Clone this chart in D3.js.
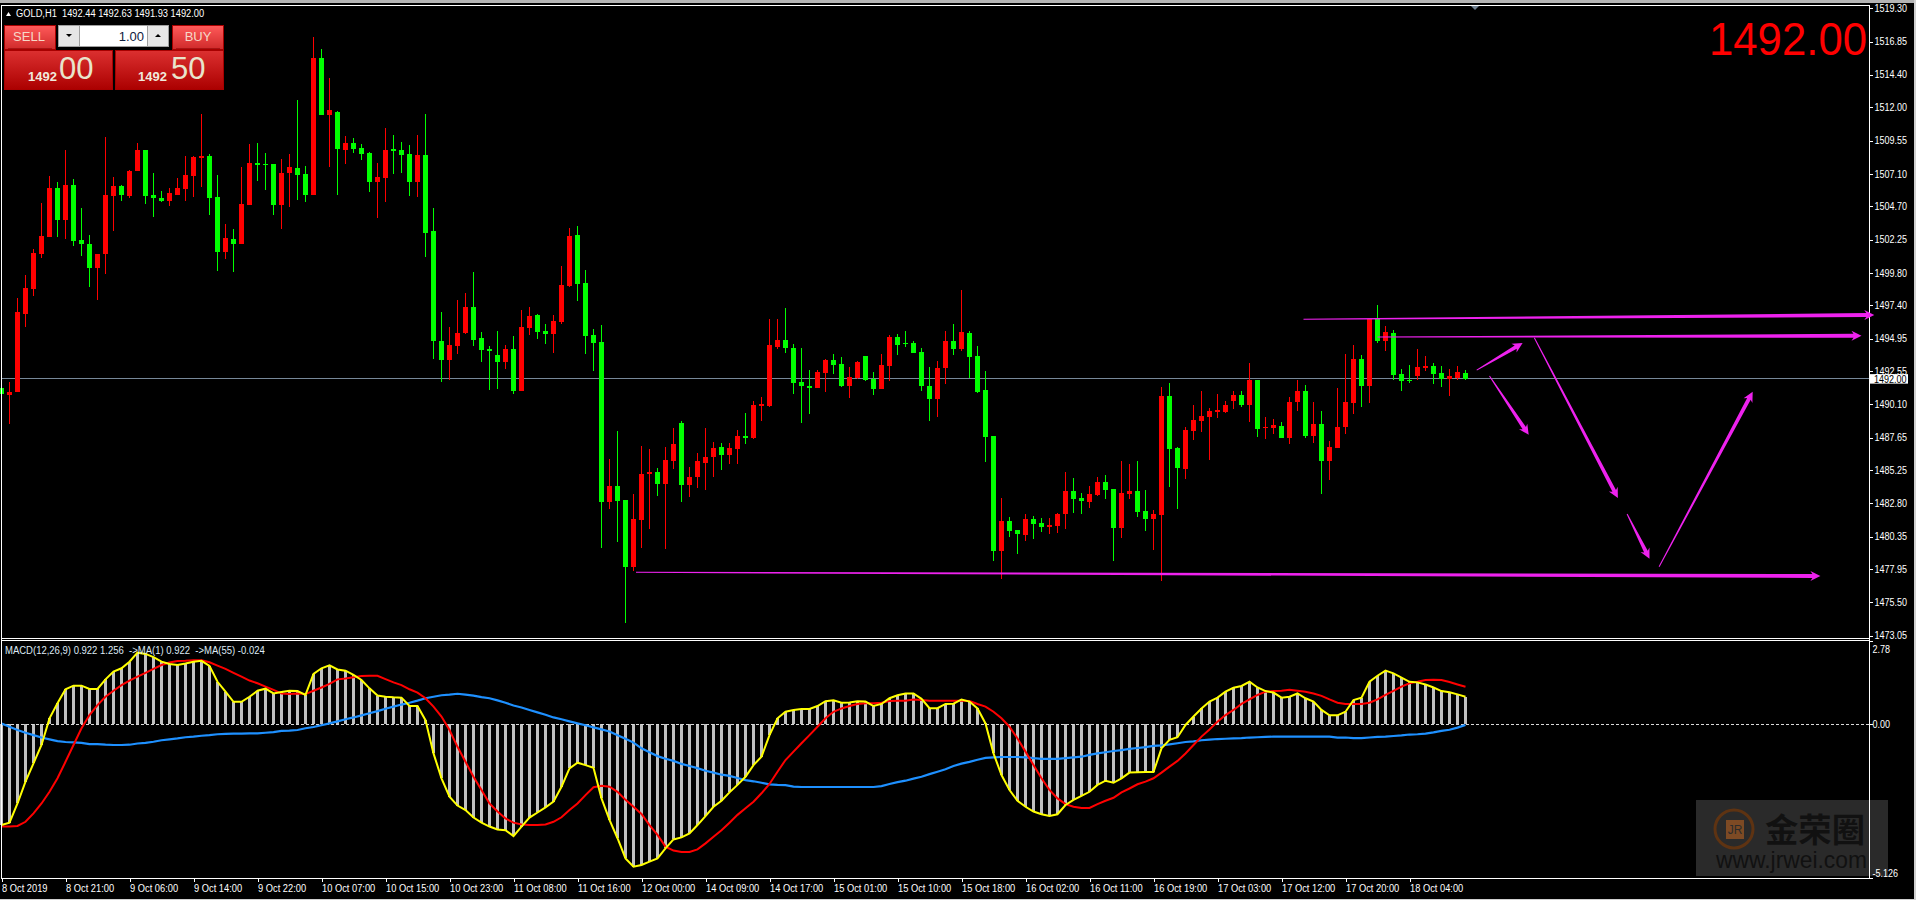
<!DOCTYPE html>
<html lang="en">
<head>
  <meta charset="UTF-8">
  <title>GOLD,H1</title>
  <style>
    html, body { margin: 0; padding: 0; background: #000; overflow: hidden; }
    svg { display: block; }
    text { font-family: "Liberation Sans", sans-serif; font-size: 10px; fill: #fff; white-space: pre; }
    .tick text { font-family: "Liberation Sans", sans-serif; font-size: 10px; fill: #fff; }
    .tick line { stroke: #fff; shape-rendering: crispEdges; }
  </style>
</head>
<body>
  <script src="https://cdn.jsdelivr.net/npm/d3@7"></script>
  <script>
    // candles
    var opens = [1491.31,1490.79,1491.01,1496.76,1498.60,1501.19,1502.44,1506.05,1503.69,1506.27,
      1502.22,1501.92,1500.15,1501.19,1505.46,1506.20,1505.46,1507.30,1508.85,1505.53,
      1505.31,1505.09,1505.53,1505.98,1506.94,1508.26,1508.41,1505.39,1501.33,1502.29,
      1501.92,1504.80,1507.89,1507.82,1507.82,1504.80,1507.16,1507.53,1507.08,1505.53,
      1515.63,1511.43,1511.65,1508.85,1509.37,1509.00,1508.63,1506.49,1506.79,1508.93,
      1508.85,1508.56,1506.49,1508.48,1502.88,1494.77,1493.37,1494.40,1495.36,1497.28,
      1494.99,1494.18,1493.74,1493.22,1494.18,1491.09,1495.73,1496.69,1495.51,1495.29,
      1496.17,1498.83,1502.59,1499.05,1495.21,1494.70,1482.90,1484.08,1483.05,1478.11,
      1481.58,1484.97,1485.11,1484.23,1485.93,1488.73,1484.16,1484.75,1485.78,1486.22,
      1486.96,1486.37,1486.81,1487.77,1487.62,1489.98,1489.98,1494.33,1494.85,1494.26,
      1491.75,1491.45,1491.31,1492.41,1493.37,1493.08,1491.45,1492.04,1493.67,1491.97,
      1491.23,1492.93,1495.07,1494.62,1494.62,1493.96,1491.45,1490.50,1492.78,1494.77,
      1494.18,1495.36,1493.67,1491.16,1487.77,1479.29,1481.50,1480.84,1480.47,1481.65,
      1481.35,1481.06,1481.13,1482.02,1483.71,1483.20,1482.90,1483.42,1484.38,1483.86,
      1480.99,1483.49,1483.71,1482.24,1481.65,1481.94,1490.72,1486.88,1485.34,1488.14,
      1488.87,1489.17,1489.54,1489.54,1490.35,1490.79,1490.05,1491.90,1488.36,1488.36,
      1488.51,1487.62,1490.27,1491.09,1487.77,1488.65,1485.93,1486.88,1488.43,1490.20,
      1493.44,1491.45,1496.39,1494.77,1495.36,1492.34,1491.90,1492.19,1492.78,1492.93,
      1492.41,1491.97,1492.04,1492.44];
    var highs = [1492.19,1491.75,1497.94,1499.64,1501.55,1504.94,1506.94,1506.49,1508.85,1506.71,
      1504.58,1502.59,1501.19,1509.81,1506.86,1506.27,1507.38,1509.37,1508.85,1507.16,
      1505.83,1506.05,1506.79,1508.41,1508.41,1511.51,1508.56,1507.01,1503.40,1503.03,
      1507.60,1509.29,1509.37,1508.63,1507.82,1508.19,1508.56,1512.54,1507.67,1517.18,
      1516.30,1514.16,1511.73,1509.88,1509.74,1509.29,1508.70,1507.89,1510.47,1509.96,
      1509.44,1509.22,1509.96,1511.51,1504.58,1496.91,1495.80,1497.79,1498.31,1499.86,
      1495.43,1494.40,1495.51,1494.48,1495.14,1497.06,1497.28,1496.76,1496.02,1496.69,
      1500.30,1503.10,1503.25,1500.01,1495.66,1495.95,1486.07,1488.14,1483.05,1483.49,
      1487.03,1486.81,1485.41,1486.96,1488.36,1488.87,1485.48,1486.51,1488.36,1487.33,
      1487.25,1487.25,1488.21,1489.46,1490.35,1490.64,1496.39,1496.39,1497.20,1494.55,
      1494.26,1492.63,1492.63,1493.44,1493.81,1493.59,1492.86,1493.30,1493.67,1492.49,
      1493.81,1495.21,1495.29,1495.51,1494.77,1494.26,1492.86,1493.30,1495.51,1496.02,
      1498.53,1495.51,1494.40,1492.56,1487.77,1483.20,1481.80,1480.84,1482.02,1481.87,
      1481.72,1481.72,1482.09,1485.11,1484.67,1483.57,1484.08,1484.75,1484.89,1483.86,
      1485.93,1485.70,1485.93,1483.79,1482.31,1491.38,1491.68,1486.96,1488.43,1490.05,
      1491.09,1489.83,1490.86,1490.35,1491.09,1491.09,1493.15,1491.90,1489.17,1489.02,
      1488.80,1490.64,1491.90,1491.53,1490.27,1489.61,1487.40,1491.31,1493.81,1494.48,
      1493.74,1496.39,1497.43,1495.88,1495.58,1492.71,1493.00,1494.18,1493.67,1493.15,
      1492.93,1492.71,1492.93,1492.63];
    var lows = [1489.98,1488.65,1491.01,1495.80,1498.09,1500.89,1502.44,1502.44,1502.29,1501.77,
      1501.04,1498.75,1497.79,1499.71,1502.88,1505.09,1505.31,1507.30,1504.87,1503.91,
      1505.02,1504.72,1505.53,1505.09,1505.39,1506.12,1504.06,1499.93,1500.82,1499.86,
      1501.92,1504.80,1506.57,1505.90,1504.06,1503.03,1504.65,1505.17,1505.02,1505.53,
      1511.43,1507.60,1505.53,1507.82,1508.63,1508.11,1505.76,1503.84,1505.02,1507.08,
      1507.16,1505.46,1505.39,1500.96,1493.44,1491.75,1491.90,1493.81,1495.29,1494.40,
      1493.22,1491.16,1491.23,1492.71,1490.86,1491.09,1495.21,1494.92,1494.55,1493.89,
      1496.02,1498.75,1497.72,1493.81,1492.56,1479.51,1482.39,1479.95,1473.98,1477.82,
      1479.51,1480.91,1483.34,1479.44,1485.34,1482.90,1483.27,1483.93,1483.79,1484.75,
      1485.26,1485.70,1485.70,1487.18,1487.55,1488.87,1489.91,1494.18,1493.89,1490.86,
      1488.73,1489.39,1491.31,1491.01,1492.34,1491.38,1490.57,1491.97,1491.82,1490.79,
      1491.23,1491.82,1493.74,1494.33,1493.89,1491.09,1488.87,1489.17,1491.60,1493.74,
      1494.03,1492.04,1490.94,1485.85,1478.55,1477.23,1480.32,1479.07,1480.03,1480.17,
      1480.69,1480.54,1480.62,1480.91,1482.09,1482.02,1482.46,1483.34,1483.12,1478.55,
      1480.25,1483.12,1481.80,1480.76,1479.36,1477.08,1484.01,1482.39,1484.60,1487.47,
      1488.06,1486.00,1489.09,1489.46,1489.76,1489.91,1488.80,1487.69,1487.55,1487.92,
      1487.62,1487.18,1489.61,1487.62,1487.25,1483.49,1484.52,1486.88,1487.92,1489.39,
      1489.91,1490.20,1494.62,1494.03,1491.90,1491.09,1491.68,1491.90,1492.56,1491.60,
      1491.38,1490.72,1491.90,1491.93];
    var closes = [1490.86,1491.01,1496.91,1498.68,1501.26,1502.51,1506.05,1503.69,1506.27,1502.14,
      1501.92,1500.15,1501.19,1505.53,1506.20,1505.53,1507.30,1508.85,1505.46,1505.31,
      1505.09,1505.68,1506.05,1507.01,1508.34,1508.41,1505.31,1501.33,1502.36,1501.92,
      1504.87,1507.89,1507.75,1507.75,1504.80,1507.16,1507.60,1507.01,1505.53,1515.63,
      1511.43,1511.80,1508.93,1509.37,1508.93,1508.56,1506.49,1506.86,1508.85,1508.78,
      1508.48,1506.49,1508.48,1502.73,1494.77,1493.37,1494.48,1495.36,1497.28,1494.85,
      1494.11,1494.03,1493.22,1494.18,1491.09,1495.80,1496.61,1495.43,1495.29,1496.25,
      1498.90,1502.51,1498.97,1495.14,1494.62,1482.90,1484.08,1482.98,1478.11,1481.65,
      1484.97,1485.11,1484.23,1486.00,1487.18,1484.16,1484.75,1485.93,1486.22,1486.88,
      1486.37,1486.88,1487.77,1487.62,1490.05,1490.13,1494.48,1494.85,1494.26,1491.68,
      1491.45,1491.31,1492.49,1493.37,1493.00,1491.45,1492.12,1493.22,1491.90,1491.23,
      1493.00,1495.07,1494.48,1494.55,1493.89,1491.45,1490.50,1492.78,1494.77,1494.18,
      1495.43,1493.59,1491.01,1487.69,1479.29,1481.50,1480.76,1480.54,1481.65,1481.28,
      1481.06,1481.21,1482.02,1483.71,1483.12,1482.98,1483.49,1484.38,1483.79,1480.99,
      1483.57,1483.71,1482.17,1481.65,1482.02,1490.72,1486.81,1485.41,1488.21,1488.95,
      1489.24,1489.61,1489.68,1490.05,1490.79,1490.05,1491.90,1488.28,1488.43,1488.58,
      1487.62,1490.27,1491.09,1487.77,1488.65,1485.93,1486.96,1488.43,1490.27,1493.44,
      1491.45,1496.39,1494.77,1495.43,1492.26,1491.82,1491.82,1492.85,1492.93,1492.34,
      1491.97,1492.19,1492.49,1492.00];

    // MACD pane: yellow main line (same values as the histogram), red signal, blue MA(55)
    var macd = [-3.36,-3.28,-2.64,-1.91,-1.30,-0.69,0.20,0.70,1.17,1.29,
      1.29,1.18,1.18,1.50,1.76,1.87,2.09,2.39,2.35,2.24,
      2.09,2.01,1.98,2.03,2.09,2.12,1.95,1.42,1.09,0.75,
      0.75,0.92,1.12,1.19,1.03,1.08,1.12,1.11,0.98,1.68,
      1.87,1.97,1.83,1.79,1.65,1.48,1.20,0.96,0.92,0.90,
      0.89,0.61,0.61,0.14,-0.97,-1.80,-2.41,-2.71,-2.86,-3.11,
      -3.28,-3.41,-3.51,-3.53,-3.73,-3.41,-3.11,-2.94,-2.77,-2.58,
      -2.08,-1.47,-1.28,-1.36,-1.45,-2.47,-3.19,-3.80,-4.47,-4.75,
      -4.69,-4.58,-4.47,-4.14,-3.84,-3.77,-3.64,-3.36,-3.06,-2.75,
      -2.55,-2.27,-2.02,-1.75,-1.36,-1.08,-0.36,0.20,0.42,0.48,
      0.51,0.51,0.61,0.77,0.80,0.72,0.73,0.77,0.76,0.61,
      0.68,0.87,0.97,1.03,1.03,0.85,0.54,0.54,0.68,0.69,
      0.83,0.76,0.53,0.03,-0.97,-1.69,-2.19,-2.55,-2.75,-2.91,
      -3.00,-3.06,-3.00,-2.69,-2.52,-2.39,-2.25,-2.02,-1.88,-1.95,
      -1.80,-1.61,-1.60,-1.59,-1.59,-0.80,-0.52,-0.43,-0.02,0.26,
      0.53,0.76,0.89,1.09,1.22,1.28,1.42,1.23,1.11,1.06,
      0.89,0.92,1.03,0.87,0.76,0.48,0.30,0.30,0.42,0.81,
      0.89,1.42,1.62,1.79,1.70,1.56,1.42,1.40,1.33,1.23,
      1.11,1.07,1.00,0.922];
    var signal = [-3.41,-3.41,-3.39,-3.25,-2.97,-2.64,-2.25,-1.80,-1.25,-0.69,
      -0.13,0.31,0.64,0.92,1.12,1.31,1.46,1.59,1.72,1.85,
      1.98,2.06,2.11,2.12,2.14,2.14,2.07,1.96,1.85,1.72,
      1.59,1.46,1.37,1.26,1.15,1.03,1.01,1.03,1.01,1.12,
      1.23,1.35,1.50,1.53,1.57,1.61,1.62,1.62,1.51,1.40,
      1.31,1.17,1.06,0.87,0.59,0.26,-0.19,-0.75,-1.25,-1.75,
      -2.19,-2.64,-2.91,-3.14,-3.28,-3.34,-3.36,-3.36,-3.34,-3.25,
      -3.10,-2.86,-2.64,-2.36,-2.10,-2.05,-2.08,-2.25,-2.52,-2.75,
      -2.99,-3.36,-3.69,-4.08,-4.21,-4.26,-4.26,-4.17,-3.97,-3.75,
      -3.53,-3.28,-3.02,-2.80,-2.58,-2.30,-1.99,-1.58,-1.19,-0.91,
      -0.63,-0.36,-0.08,0.20,0.42,0.53,0.61,0.68,0.70,0.70,
      0.72,0.78,0.79,0.79,0.83,0.81,0.79,0.79,0.79,0.79,
      0.79,0.78,0.68,0.59,0.42,0.20,-0.08,-0.47,-0.91,-1.36,
      -1.80,-2.19,-2.47,-2.66,-2.75,-2.79,-2.79,-2.66,-2.55,-2.45,
      -2.27,-2.14,-2.00,-1.91,-1.80,-1.61,-1.41,-1.22,-0.97,-0.69,
      -0.41,-0.17,0.09,0.31,0.48,0.68,0.83,0.98,1.09,1.11,
      1.12,1.15,1.12,1.09,1.03,0.95,0.83,0.72,0.68,0.68,
      0.68,0.72,0.83,0.98,1.12,1.26,1.37,1.42,1.48,1.49,
      1.48,1.41,1.33,1.256];
    var ma55 = [0.03,-0.08,-0.19,-0.28,-0.36,-0.44,-0.50,-0.56,-0.59,-0.60,
      -0.62,-0.66,-0.66,-0.68,-0.69,-0.69,-0.68,-0.64,-0.62,-0.58,
      -0.53,-0.50,-0.47,-0.43,-0.41,-0.38,-0.36,-0.33,-0.32,-0.31,
      -0.31,-0.30,-0.30,-0.28,-0.26,-0.22,-0.21,-0.19,-0.13,-0.09,
      -0.03,0.03,0.10,0.17,0.23,0.30,0.37,0.44,0.52,0.59,
      0.66,0.72,0.79,0.87,0.92,0.97,0.99,1.02,0.99,0.96,
      0.91,0.87,0.80,0.72,0.63,0.56,0.48,0.40,0.32,0.23,
      0.17,0.10,0.03,-0.03,-0.10,-0.17,-0.24,-0.36,-0.48,-0.61,
      -0.80,-0.93,-1.06,-1.15,-1.22,-1.32,-1.39,-1.46,-1.55,-1.61,
      -1.68,-1.72,-1.79,-1.86,-1.90,-1.95,-2.00,-2.02,-2.03,-2.08,
      -2.09,-2.09,-2.09,-2.09,-2.09,-2.09,-2.09,-2.09,-2.09,-2.09,
      -2.06,-1.99,-1.93,-1.88,-1.81,-1.75,-1.66,-1.58,-1.50,-1.39,
      -1.31,-1.25,-1.18,-1.12,-1.10,-1.09,-1.09,-1.09,-1.10,-1.13,
      -1.15,-1.15,-1.15,-1.13,-1.10,-1.08,-1.02,-0.97,-0.93,-0.89,
      -0.86,-0.82,-0.79,-0.76,-0.72,-0.70,-0.67,-0.63,-0.59,-0.57,
      -0.53,-0.51,-0.49,-0.48,-0.47,-0.46,-0.44,-0.43,-0.42,-0.41,
      -0.41,-0.41,-0.41,-0.41,-0.41,-0.41,-0.41,-0.44,-0.44,-0.46,
      -0.46,-0.44,-0.42,-0.41,-0.39,-0.37,-0.34,-0.33,-0.31,-0.27,
      -0.22,-0.18,-0.11,-0.024];

    // axis labels
    var priceTicks = [1519.30,1516.85,1514.40,1512.00,1509.55,1507.10,1504.70,1502.25,1499.80,1497.40,1494.95,1492.55,1490.10,1487.65,1485.25,1482.80,1480.35,1477.95,1475.50,1473.05];
    var macdTicks = [2.78,0,-5.126];
    var timeLabels = ["8 Oct 2019","8 Oct 21:00","9 Oct 06:00","9 Oct 14:00","9 Oct 22:00","10 Oct 07:00","10 Oct 15:00","10 Oct 23:00","11 Oct 08:00","11 Oct 16:00","12 Oct 00:00","14 Oct 09:00","14 Oct 17:00","15 Oct 01:00","15 Oct 10:00","15 Oct 18:00","16 Oct 02:00","16 Oct 11:00","16 Oct 19:00","17 Oct 03:00","17 Oct 12:00","17 Oct 20:00","18 Oct 04:00"];
    var barsPerLabel = 8;
    var lastPrice = 1492.00;

    // hand drawn arrows, in bar number / price
    var arrowFromBar = [162.75,172,79.31,184.4,186,191.6,203.2,207.2];
    var arrowFromPrice = [1496.37,1495.07,1477.72,1492.63,1492.19,1495.01,1482.02,1478.13];
    var arrowToBar = [234.1,232.5,227.36,190.14,190.9,202.05,206.0,218.9];
    var arrowToPrice = [1496.69,1495.16,1477.45,1494.62,1487.86,1483.20,1478.72,1491.03];

    var width = 1916, height = 900;
    var left = 1, right = 1869, top0 = 5;
    var priceBottom = 638, macdTop = 640, macdBottom = 878;
    var pink = "#ee22ee";

    // no narrow font here, so squeeze the text to the width it has in MT4
    function squeeze(sel, k) {
      sel.each(function() {
        this.setAttribute("textLength", this.getComputedTextLength() * k);
        this.setAttribute("lengthAdjust", "spacingAndGlyphs");
      });
      return sel;
    }

    var svg = d3.select("body").append("svg").attr("width", width).attr("height", height);
    svg.append("rect").attr("width", width).attr("height", height).attr("fill", "#000");

    var x = d3.scaleLinear().domain([0, opens.length - 1]).range([1.5, 1465.5]);
    var y = d3.scaleLinear().domain([1519.30, 1473.05]).range([8.3, 635.7]);
    var yMacd = d3.scaleLinear().domain([2.78, -5.126]).range([641, macdBottom]);

    // window chrome
    svg.append("rect").attr("width", width).attr("height", 3).attr("fill", "#b4b4b4");
    svg.append("rect").attr("x", width - 2).attr("width", 2).attr("height", height).attr("fill", "#d0d0d0");
    svg.append("rect").attr("y", height - 1).attr("width", width).attr("height", 1).attr("fill", "#d0d0d0");

    // last price line
    svg.append("line")
      .attr("x1", left).attr("x2", right)
      .attr("y1", y(lastPrice)).attr("y2", y(lastPrice))
      .attr("stroke", "#778899").attr("shape-rendering", "crispEdges");

    // candles
    var idx = d3.range(opens.length);
    function candleColor(i) { return closes[i] >= opens[i] ? "#ff0000" : "#00ff00"; }
    var candles = svg.append("g").attr("shape-rendering", "crispEdges");
    candles.selectAll("line").data(idx).enter().append("line")
      .attr("x1", function(i){ return x(i); })
      .attr("x2", function(i){ return x(i); })
      .attr("y1", function(i){ return y(highs[i]); })
      .attr("y2", function(i){ return y(lows[i]); })
      .attr("stroke", candleColor);
    candles.selectAll("rect").data(idx).enter().append("rect")
      .attr("x", function(i){ return x(i) - 2.5; })
      .attr("width", 5)
      .attr("y", function(i){ return y(Math.max(opens[i], closes[i])); })
      .attr("height", function(i){ return Math.max(1, Math.abs(y(opens[i]) - y(closes[i]))); })
      .attr("fill", candleColor);

    // histogram
    var zero = yMacd(0);
    svg.append("g").attr("shape-rendering", "crispEdges")
      .selectAll("rect").data(macd).enter().append("rect")
      .attr("x", function(d,i){ return x(i) - 1.5; })
      .attr("width", 3)
      .attr("y", function(d){ return Math.min(zero, yMacd(d)); })
      .attr("height", function(d){ return Math.abs(yMacd(d) - zero); })
      .attr("fill", "#c0c0c0");

    // zero level
    svg.append("line")
      .attr("x1", left).attr("x2", right)
      .attr("y1", zero).attr("y2", zero)
      .attr("stroke", "#d8d8d8").attr("stroke-dasharray", "3,2")
      .attr("shape-rendering", "crispEdges");

    var line = d3.line()
      .x(function(d,i){ return x(i); })
      .y(function(d){ return yMacd(d); });
    [[ma55, "#1e90ff", 2.2], [signal, "#ff0000", 2], [macd, "#ffff00", 2]].forEach(function(s) {
      svg.append("path").attr("d", line(s[0]))
        .attr("fill", "none").attr("stroke", s[1]).attr("stroke-width", s[2]);
    });

    // watermark
    svg.append("rect").attr("x", 1696).attr("y", 800).attr("width", 192).attr("height", 76)
      .attr("fill", "#fff").attr("opacity", 0.165);
    svg.append("circle").attr("cx", 1734).attr("cy", 829).attr("r", 19)
      .attr("fill", "none").attr("stroke", "#5e3312").attr("stroke-width", 3);
    svg.append("rect").attr("x", 1726).attr("y", 820).attr("width", 18).attr("height", 19).attr("fill", "#7d4a24");
    svg.append("text").attr("x", 1735).attr("y", 834).attr("text-anchor", "middle")
      .style("font-size", "12px").style("fill", "#2b2b2b").text("JR");
    svg.append("text").attr("x", 1765).attr("y", 842)
      .attr("textLength", 100).attr("lengthAdjust", "spacingAndGlyphs")
      .style("font-size", "33px").style("font-family", "Noto Sans CJK SC").style("font-weight", "700").style("fill", "#111").text("金荣圈");
    svg.append("text").attr("x", 1716).attr("y", 868)
      .attr("textLength", 151).attr("lengthAdjust", "spacingAndGlyphs")
      .style("font-size", "24px").style("fill", "#111").text("www.jrwei.com");

    // frame
    var frame = svg.append("g").attr("stroke", "#fff").attr("shape-rendering", "crispEdges");
    [[left, right, top0 + 0.5, top0 + 0.5], [left, right, priceBottom + 0.5, priceBottom + 0.5],
     [left, right, macdTop + 0.5, macdTop + 0.5], [left, right, macdBottom + 0.5, macdBottom + 0.5],
     [left + 0.5, left + 0.5, top0, macdBottom], [right + 0.5, right + 0.5, top0, macdBottom + 1]].forEach(function(l) {
      frame.append("line").attr("x1", l[0]).attr("x2", l[1]).attr("y1", l[2]).attr("y2", l[3]);
    });

    // price axis
    var priceAxis = svg.append("g").attr("transform", "translate(" + (right + 0.5) + ",0)")
      .call(d3.axisRight(y).tickValues(priceTicks).tickFormat(d3.format(".2f")).tickSize(3).tickPadding(2));
    priceAxis.select(".domain").remove();
    squeeze(priceAxis.selectAll(".tick text"), 0.9);

    // macd axis, the end labels sit inside the pane
    var macdAxis = svg.append("g").attr("transform", "translate(" + (right + 0.5) + ",0)")
      .call(d3.axisRight(yMacd).tickValues(macdTicks)
        .tickFormat(function(d){ return d === -5.126 ? "-5.126" : d3.format(".2f")(d); })
        .tickSize(3).tickPadding(0));
    macdAxis.select(".domain").remove();
    macdAxis.selectAll(".tick text")
      .attr("dy", function(d){ return d === 2.78 ? "1.1em" : d === -5.126 ? "-0.2em" : "0.32em"; });
    squeeze(macdAxis.selectAll(".tick text"), 0.9);

    // time axis
    var timeAxis = svg.append("g").attr("transform", "translate(0," + (macdBottom + 0.5) + ")")
      .call(d3.axisBottom(x)
        .tickValues(timeLabels.map(function(d,i){ return i * barsPerLabel; }))
        .tickFormat(function(d){ return timeLabels[d / barsPerLabel]; })
        .tickSize(3).tickPadding(3));
    timeAxis.select(".domain").remove();
    timeAxis.selectAll(".tick text").attr("text-anchor", "start");
    squeeze(timeAxis.selectAll(".tick text"), 0.93);

    // last price tag
    svg.append("rect").attr("x", right + 1).attr("y", y(lastPrice) - 4.5).attr("width", 38).attr("height", 9.5).attr("fill", "#fff");
    squeeze(svg.append("text").attr("x", right + 5).attr("y", y(lastPrice) + 4).style("fill", "#000").text(d3.format(".2f")(lastPrice)), 0.9);

    // arrows, thin at the start and growing to the head
    function arrowPath(x1, y1, x2, y2) {
      var len = Math.hypot(x2 - x1, y2 - y1), ux = (x2 - x1) / len, uy = (y2 - y1) / len, nx = -uy, ny = ux;
      var headLen = 10, headW = 5, w0 = 0.5, w1 = 2;
      var neck = [x2 - ux * headLen * 0.8, y2 - uy * headLen * 0.8], barb = [x2 - ux * headLen, y2 - uy * headLen];
      var p = d3.path();
      p.moveTo(x1 + nx * w0, y1 + ny * w0);
      p.lineTo(neck[0] + nx * w1, neck[1] + ny * w1);
      p.lineTo(barb[0] + nx * headW, barb[1] + ny * headW);
      p.lineTo(x2, y2);
      p.lineTo(barb[0] - nx * headW, barb[1] - ny * headW);
      p.lineTo(neck[0] - nx * w1, neck[1] - ny * w1);
      p.lineTo(x1 - nx * w0, y1 - ny * w0);
      p.closePath();
      return p.toString();
    }
    svg.append("g").selectAll("path").data(arrowFromBar).enter().append("path")
      .attr("d", function(d,i){ return arrowPath(x(d), y(arrowFromPrice[i]), x(arrowToBar[i]), y(arrowToPrice[i])); })
      .attr("fill", pink);

    // shift marker at the top
    svg.append("path").attr("d", "M1471,6L1479,6L1475,10Z").attr("fill", "#708090");

    // header text
    svg.append("path").attr("d", "M6,16L11,16L8.5,12Z").attr("fill", "#fff");
    squeeze(svg.append("text").attr("x", 16).attr("y", 17)
      .text("GOLD,H1  1492.44 1492.63 1491.93 1492.00"), 0.93);

    squeeze(svg.append("text").attr("x", 5).attr("y", 654)
      .style("fill", "#dfeaf5")
      .text("MACD(12,26,9) 0.922 1.256  ->MA(1) 0.922  ->MA(55) -0.024"), 0.95);

    svg.append("text").attr("x", 1867).attr("y", 55).attr("text-anchor", "end")
      .attr("textLength", 158).attr("lengthAdjust", "spacingAndGlyphs")
      .style("font-size", "46px").style("fill", "#ff0000")
      .text("1492.00");

    // one click trading panel
    var defs = svg.append("defs");
    var g1 = defs.append("linearGradient").attr("id", "btn").attr("x2", 0).attr("y2", 1);
    g1.append("stop").attr("offset", 0).attr("stop-color", "#ff5a5a");
    g1.append("stop").attr("offset", 1).attr("stop-color", "#cf2a2a");
    var g2 = defs.append("linearGradient").attr("id", "prc").attr("x2", 0).attr("y2", 1);
    g2.append("stop").attr("offset", 0).attr("stop-color", "#dc3030");
    g2.append("stop").attr("offset", 1).attr("stop-color", "#ab0000");

    var panel = svg.append("g");
    function box(px, py, w, h, fill, stroke) {
      return panel.append("rect").attr("x", px).attr("y", py).attr("width", w).attr("height", h)
        .attr("fill", fill).attr("stroke", stroke || "none").attr("shape-rendering", "crispEdges");
    }
    function label(px, py, txt, size, color, weight, anchor) {
      return panel.append("text").attr("x", px).attr("y", py).attr("text-anchor", anchor || "start")
        .style("font-size", size + "px")
        .style("font-weight", weight || 400).style("fill", color).text(txt);
    }
    box(4.5, 25.5, 51, 24, "url(#btn)", "#a80000");
    box(172.5, 25.5, 51, 24, "url(#btn)", "#a80000");
    box(8, 48, 44, 1, "#a81414");
    box(176, 48, 44, 1, "#a81414");
    label(29, 41, "SELL", 13, "#f6d8c8", 400, "middle");
    label(198, 41, "BUY", 13, "#f6d8c8", 400, "middle");
    box(58.5, 25.5, 21, 21, "#e6e6e6", "#a0a0a0");
    box(79.5, 25.5, 68, 21, "#fff", "#a0a0a0");
    box(147.5, 25.5, 21, 21, "#e6e6e6", "#a0a0a0");
    panel.append("path").attr("d", "M66,34L72,34L69,37Z").attr("fill", "#000");
    panel.append("path").attr("d", "M155,37L161,37L158,34Z").attr("fill", "#000");
    label(144, 41, "1.00", 13, "#102040", 400, "end");
    box(4.5, 50.5, 108, 39, "url(#prc)", "#a80000");
    box(115.5, 50.5, 108, 39, "url(#prc)", "#a80000");
    label(28, 81, "1492", 13, "#f0eadc", 700);
    label(59, 79, "00", 31, "#e8e4cc");
    label(138, 81, "1492", 13, "#f0eadc", 700);
    label(171, 79, "50", 31, "#e8e4cc");
  </script>
</body>
</html>
